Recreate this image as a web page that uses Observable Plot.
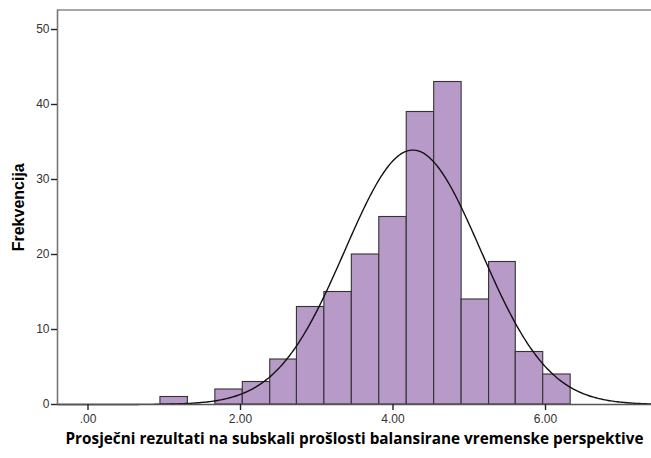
<!DOCTYPE html>
<html>
<head>
<meta charset="utf-8">
<script src="https://cdn.jsdelivr.net/npm/d3@7"></script>
<script src="https://cdn.jsdelivr.net/npm/@observablehq/plot@0.6"></script>
<style>
  html, body { margin: 0; padding: 0; background: #fff; }
</style>
</head>
<body>
<div id="chart"></div>
<script>
// Bin edges and counts
const binEdges = [0.95, 1.31, 1.67, 2.03, 2.39, 2.74, 3.10, 3.46, 3.82, 4.18, 4.54, 4.90, 5.26, 5.61, 5.97, 6.33];
const counts = [1, 0, 2, 3, 6, 13, 15, 20, 25, 39, 43, 14, 19, 7, 4];
const xTicks = [0, 2, 4, 6];
const yTicks = [0, 10, 20, 30, 40, 50];
const xLabel = "Prosječni rezultati na subskali prošlosti balansirane vremenske perspektive";
const yLabel = "Frekvencija";
// Normal curve parameters (fitted by SPSS)
const mean = 4.26;
const sd = 0.89;

const xDomain = [-0.4, 7.39];
const yDomain = [0, 52.6];

const bins = counts.map((c, i) => ({x1: binEdges[i], x2: binEdges[i + 1], count: c})).filter(d => d.count > 0);
const N = d3.sum(counts);
const w = (binEdges[binEdges.length - 1] - binEdges[0]) / counts.length;
const curve = d3.range(xDomain[0], xDomain[1] + 0.001, 0.02).map(x => ({
  x,
  y: N * w * Math.exp(-0.5 * ((x - mean) / sd) ** 2) / (sd * Math.sqrt(2 * Math.PI))
}));

const font = "'Liberation Sans', Arial, sans-serif";
const plot = Plot.plot({
  width: 651,
  height: 458,
  marginLeft: 57,
  marginRight: 0,
  marginTop: 9.5,
  marginBottom: 54,
  style: {fontFamily: font, fontSize: "12px", color: "#333", background: "#fff"},
  x: {domain: xDomain, label: null},
  y: {domain: yDomain, label: null},
  marks: [
    Plot.rectY(bins, {x1: "x1", x2: "x2", y: "count", fill: "#b79ac8", stroke: "#333", strokeWidth: 1.1, inset: 0}),
    Plot.line(curve, {x: "x", y: "y", stroke: "#111", strokeWidth: 1.4}),
    Plot.ruleY([yDomain[1]], {stroke: "#888", strokeWidth: 1.6}),
    Plot.ruleX([xDomain[0]], {stroke: "#777", strokeWidth: 1.6}),
    Plot.ruleY([0], {stroke: "#555", strokeWidth: 1.4}),
    Plot.axisY({ticks: yTicks, tickSize: 6, tickPadding: 2, tickFormat: d => String(d), stroke: "#222", strokeWidth: 1.4, label: null, fill: "#333", fontSize: 12}),
    Plot.axisX({ticks: xTicks, tickSize: 6, tickPadding: 4, tickFormat: d => d.toFixed(2).replace(/^0/, ""), stroke: "#222", strokeWidth: 1.4, label: null, fill: "#333", fontSize: 12}),
    Plot.text([xLabel], {frameAnchor: "bottom", dy: 39, fontWeight: "bold", fontSize: 15.3, fontFamily: "'Open Sans', sans-serif", fill: "#000"}),
    Plot.text([yLabel], {frameAnchor: "left", textAnchor: "middle", dx: -39, rotate: -90, fontWeight: "bold", fontSize: 16, fill: "#000"})
  ]
});
document.getElementById("chart").appendChild(plot);
</script>
</body>
</html>
